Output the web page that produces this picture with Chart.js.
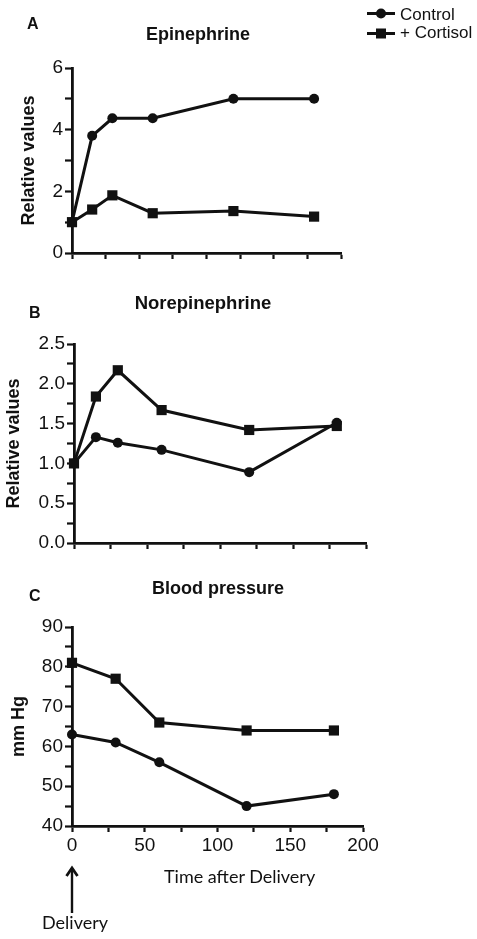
<!DOCTYPE html>
<html>
<head>
<meta charset="utf-8">
<script src="https://cdn.jsdelivr.net/npm/chart.js@4.4.1/dist/chart.umd.min.js"></script>
<style>
  body { margin: 0; background: #fff; }
  #page { position: relative; width: 477px; height: 939px; overflow: hidden; font-family: "Liberation Sans", Arial, sans-serif; color: #111; }
  canvas { position: absolute; left: 0; }
  .txt { position: absolute; white-space: nowrap; line-height: 1; z-index: 2; }
  .title { font-weight: bold; font-size: 18px; transform: translateX(-50%); }
  .letter { font-weight: bold; font-size: 16px; }
  .legend { font-size: 17px; }
  .note { font-family: Lato, "Open Sans", sans-serif; font-size: 18px; }
  svg { position: absolute; z-index: 2; }
</style>
</head>
<body>
<div id="page">
  <canvas id="chartA" width="477" height="280" style="top:0px"></canvas>
  <canvas id="chartB" width="477" height="290" style="top:280px"></canvas>
  <canvas id="chartC" width="477" height="300" style="top:570px"></canvas>

  <div class="txt letter" style="left:27px; top:16px;">A</div>
  <div class="txt title" style="left:198px; top:25px;">Epinephrine</div>
  <div class="txt letter" style="left:29px; top:305px;">B</div>
  <div class="txt title" style="left:203px; top:294px; font-size:18.5px;">Norepinephrine</div>
  <div class="txt letter" style="left:29px; top:588px;">C</div>
  <div class="txt title" style="left:218px; top:579px;">Blood pressure</div>

  <svg style="left:362px; top:3px" width="38" height="42">
    <line x1="5" y1="10.5" x2="33" y2="10.5" stroke="#111" stroke-width="3"/>
    <circle cx="19" cy="10.5" r="5" fill="#111"/>
    <line x1="5" y1="30.5" x2="33" y2="30.5" stroke="#111" stroke-width="3"/>
    <rect x="14" y="25.5" width="10" height="10" fill="#111"/>
  </svg>
  <div class="txt legend" style="left:400px; top:6px;">Control</div>
  <div class="txt legend" style="left:400px; top:24px;">+ Cortisol</div>

  <div class="txt note" style="left:164px; top:867px;">Time after Delivery</div>
  <svg style="left:62px; top:864px" width="20" height="52">
    <line x1="10" y1="4" x2="10" y2="49" stroke="#111" stroke-width="2.4"/>
    <polyline points="4.5,12 10,4 15.5,12" fill="none" stroke="#111" stroke-width="2.8"/>
  </svg>
  <div class="txt note" style="left:42px; top:913px;">Delivery</div>
</div>

<script>
  // time points (minutes after delivery)
  const timesCatechol = [0, 15, 30, 60, 120, 180];
  const timesPressure = [0, 30, 60, 120, 180];

  // panel A - epinephrine, relative values
  const epiControl = [1.0, 3.8, 4.37, 4.37, 5.0, 5.0];
  const epiCortisol = [1.0, 1.41, 1.87, 1.29, 1.36, 1.18];

  // panel B - norepinephrine, relative values
  const norControl = [1.0, 1.33, 1.26, 1.17, 0.89, 1.51];
  const norCortisol = [1.0, 1.84, 2.17, 1.67, 1.42, 1.47];

  // panel C - blood pressure, mm Hg
  const bpControl = [63, 61, 56, 45, 48];
  const bpCortisol = [81, 77, 66, 64, 64];

  const ink = "#111";
  const tickFont = { family: "'Liberation Sans', Arial, sans-serif", size: 19 };

  function series(label, xs, ys, shape, radius, order) {
    return {
      label: label,
      data: xs.map((x, i) => ({ x: x, y: ys[i] })),
      borderColor: ink,
      borderWidth: 3,
      backgroundColor: ink,
      pointStyle: shape,
      pointRadius: radius,
      pointBorderWidth: 0,
      pointBackgroundColor: ink,
      tension: 0,
      clip: false,
      order: order
    };
  }

  function makePanel(id, cfg) {
    const el = document.getElementById(id);
    return new Chart(el.getContext("2d"), {
      type: "line",
      data: {
        datasets: [
          series("Control", cfg.xs, cfg.control, "circle", 5, 1),
          series("+ Cortisol", cfg.xs, cfg.cortisol, "rect", 7.2, 0)
        ]
      },
      options: {
        responsive: false,
        animation: false,
        events: [],
        layout: { padding: { left: 0, top: cfg.area.top, right: 477 - cfg.area.right, bottom: 0 } },
        plugins: { legend: { display: false }, tooltip: { enabled: false } },
        scales: {
          x: {
            type: "linear",
            min: 0,
            max: 200,
            afterFit: s => { s.height = cfg.height - cfg.area.bottom; },
            border: { color: ink, width: 2.8 },
            grid: { display: true, drawOnChartArea: false, drawTicks: true, tickLength: 6, tickColor: ink, tickWidth: 2.2 },
            ticks: {
              display: cfg.showX,
              stepSize: 25,
              autoSkip: false,
              maxRotation: 0,
              padding: 2,
              color: ink,
              font: tickFont,
              callback: v => (v % 50 === 0 ? String(v) : "")
            }
          },
          y: {
            type: "linear",
            min: cfg.yMin,
            max: cfg.yMax,
            afterFit: s => { s.width = cfg.area.left; },
            border: { color: ink, width: 2.8 },
            grid: { display: true, drawOnChartArea: false, drawTicks: true, tickLength: 7, tickColor: ink, tickWidth: 2.2 },
            ticks: {
              stepSize: cfg.yStep,
              autoSkip: false,
              padding: 2,
              color: ink,
              font: tickFont,
              callback: cfg.yLabel
            },
            title: {
              display: true,
              text: cfg.yTitle,
              color: ink,
              font: { family: "'Liberation Sans', Arial, sans-serif", size: 18, weight: "bold" },
              padding: { top: cfg.titlePad, bottom: 0 }
            }
          }
        }
      }
    });
  }

  makePanel("chartA", {
    xs: timesCatechol, control: epiControl, cortisol: epiCortisol,
    height: 280, area: { left: 72, top: 68, right: 341, bottom: 253 },
    showX: false, yMin: 0, yMax: 6, yStep: 1,
    yLabel: v => (v % 2 === 0 ? String(v) : ""),
    yTitle: "Relative values", titlePad: 18
  });

  makePanel("chartB", {
    xs: timesCatechol, control: norControl, cortisol: norCortisol,
    height: 290, area: { left: 74, top: 64, right: 366, bottom: 263 },
    showX: false, yMin: 0, yMax: 2.5, yStep: 0.25,
    yLabel: v => (Math.round(v * 4) % 2 === 0 ? v.toFixed(1) : ""),
    yTitle: "Relative values", titlePad: 3
  });

  makePanel("chartC", {
    xs: timesPressure, control: bpControl, cortisol: bpCortisol,
    height: 300, area: { left: 72, top: 57, right: 363, bottom: 256 },
    showX: true, yMin: 40, yMax: 90, yStep: 5,
    yLabel: v => (v % 10 === 0 ? String(v) : ""),
    yTitle: "mm Hg", titlePad: 8
  });
</script>
</body>
</html>
